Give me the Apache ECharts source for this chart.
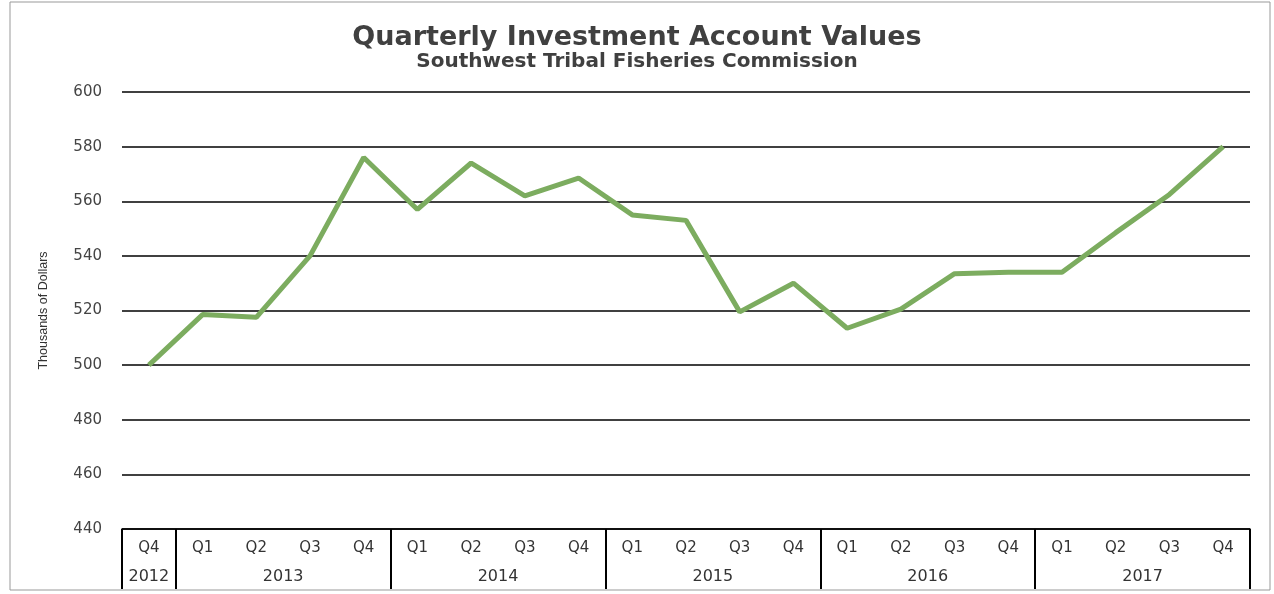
<!DOCTYPE html>
<html>
<head>
<meta charset="utf-8">
<script src="https://cdn.jsdelivr.net/npm/echarts@6/dist/echarts.min.js"></script>
<style>
  html, body { margin: 0; padding: 0; background: #fff; }
  #main { width: 1274px; height: 594px; }
</style>
</head>
<body>
<div id="main"></div>
<script>
// data
var quarters = ['Q4', 'Q1', 'Q2', 'Q3', 'Q4', 'Q1', 'Q2', 'Q3', 'Q4', 'Q1', 'Q2', 'Q3', 'Q4',
    'Q1', 'Q2', 'Q3', 'Q4', 'Q1', 'Q2', 'Q3', 'Q4'];
var years = ['2012', '2013', '2014', '2015', '2016', '2017'];
var yearCounts = [1, 4, 4, 4, 4, 4];
var values = [500, 518.5, 517.5, 540, 576, 557, 574, 562, 568.5, 555, 553, 519.5, 530,
    513.5, 520.5, 533.5, 534, 534, 548.5, 562.5, 580];

// year group centres and separators, in category index units
var yearCenters = [];
var yearBounds = [-0.5];
var start = 0;
for (var i = 0; i < yearCounts.length; i++) {
    yearCenters.push(start + (yearCounts[i] - 1) / 2);
    start += yearCounts[i];
    yearBounds.push(start - 0.5);
}

var chart = echarts.init(document.getElementById('main'));
var option = {
    backgroundColor: '#fff',
    title: {
        text: 'Quarterly Investment Account Values',
        subtext: 'Southwest Tribal Fisheries Commission',
        left: 'center',
        top: 19,
        itemGap: 1,
        textStyle: {
            fontFamily: 'DejaVu Sans',
            fontSize: 27,
            fontWeight: 'bold',
            color: '#404040'
        },
        subtextStyle: {
            fontFamily: 'DejaVu Sans',
            fontSize: 20,
            fontWeight: 'bold',
            color: '#404040'
        }
    },
    graphic: [
        {
            type: 'rect',
            shape: { x: 10, y: 2, width: 1260, height: 588 },
            style: { fill: 'none', stroke: '#999', lineWidth: 1 },
            silent: true
        }
    ],
    grid: {
        left: 122,
        right: 24,
        top: 92,
        bottom: 65
    },
    xAxis: [
        {
            type: 'category',
            data: quarters,
            boundaryGap: true,
            axisLine: { show: true, lineStyle: { color: '#000', width: 1.5 } },
            axisTick: { show: false },
            axisLabel: {
                margin: 12,
                fontFamily: 'DejaVu Sans',
                fontSize: 15,
                color: '#333'
            }
        },
        {
            type: 'value',
            min: -0.5,
            max: 20.5,
            position: 'bottom',
            axisLine: { show: false },
            splitLine: { show: false },
            axisTick: {
                show: true,
                customValues: yearBounds,
                length: 60,
                lineStyle: { color: '#000', width: 2 }
            },
            axisLabel: {
                customValues: yearCenters,
                margin: 40,
                fontFamily: 'DejaVu Sans',
                fontSize: 16,
                color: '#333',
                formatter: function (v) {
                    for (var k = 0; k < yearCenters.length; k++) {
                        if (Math.abs(yearCenters[k] - v) < 0.01) return years[k];
                    }
                    return '';
                }
            }
        }
    ],
    yAxis: {
        type: 'value',
        min: 440,
        max: 600,
        interval: 20,
        name: 'Thousands of Dollars',
        nameLocation: 'middle',
        nameGap: 72,
        nameTextStyle: {
            fontFamily: 'Liberation Sans',
            fontSize: 12.5,
            color: '#333'
        },
        axisLine: { show: false },
        axisTick: { show: false },
        axisLabel: {
            margin: 20,
            fontFamily: 'DejaVu Sans',
            fontSize: 15,
            color: '#444'
        },
        splitLine: { lineStyle: { color: '#000', width: 1.5 } }
    },
    series: [
        {
            type: 'line',
            data: values,
            xAxisIndex: 0,
            yAxisIndex: 0,
            showSymbol: false,
            lineStyle: { color: '#7cac5f', width: 5 },
            itemStyle: { color: '#7cac5f' }
        }
    ]
};
chart.setOption(option);
</script>
</body>
</html>
